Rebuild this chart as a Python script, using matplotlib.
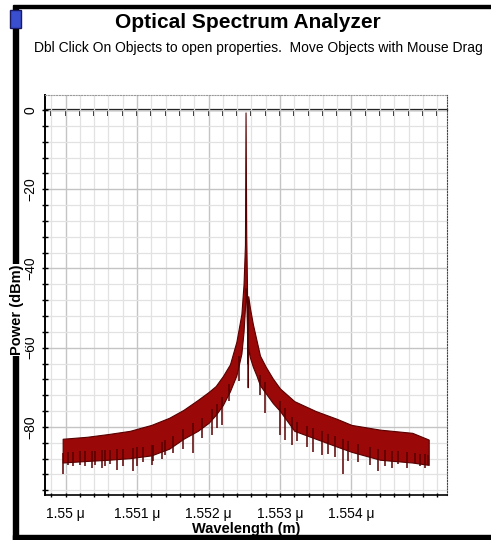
import numpy as np
import matplotlib.pyplot as plt
from matplotlib.patches import Rectangle
from matplotlib.ticker import MultipleLocator, FixedLocator, FuncFormatter

plt.rcParams['font.family'] = ['Liberation Sans', 'DejaVu Sans']

# spectrum envelope (wavelength in micrometres, power in dBm)
wl_upper = [1.54996, 1.5503, 1.5506, 1.5509, 1.5512, 1.55145, 1.55165, 1.55185,
            1.5520, 1.5521, 1.5522, 1.5523, 1.55239, 1.55246, 1.55249, 1.55251,
            1.552518, 1.552528, 1.552538, 1.552548, 1.552556, 1.55258, 1.55262,
            1.55267, 1.55272, 1.5528, 1.5529, 1.5530, 1.5532, 1.5535, 1.5538,
            1.5540, 1.5544, 1.55485, 1.55508]
p_upper = [-83.0, -82.5, -81.8, -81.0, -79.5, -77.7, -75.7, -73.2,
           -71.2, -69.7, -67.2, -64.2, -58.5, -51.5, -44.0, -34.0,
           -0.6, -32.0, -44.0, -64.0, -47.0, -50.0, -54.0,
           -58.0, -62.0, -64.8, -67.8, -70.3, -73.5, -76.0, -78.0,
           -79.5, -80.7, -81.5, -83.2]
p_lower = [-89.0, -88.6, -88.3, -87.9, -87.2, -85.5, -83.0, -81.0,
           -79.0, -77.0, -74.5, -71.0, -67.0, -61.5, -56.0, -50.0,
           -45.0, -48.0, -55.0, -70.0, -60.0, -62.5, -64.8,
           -67.0, -69.5, -71.5, -74.0, -76.0, -81.0, -83.0, -85.0,
           -86.3, -88.3, -89.0, -89.6]

# downward noise spikes visible in the trace
spike_wl = [1.549969, 1.550039, 1.550109, 1.550203, 1.550273, 1.550366, 1.550413,
            1.550506, 1.550552, 1.550622, 1.550716, 1.550808, 1.550948, 1.550996,
            1.551088, 1.551206, 1.551228, 1.551345, 1.551392, 1.551508, 1.551648,
            1.551787, 1.551905, 1.552045, 1.552115, 1.552185, 1.55228, 1.55242,
            1.55272, 1.552790, 1.553000, 1.553070, 1.553164, 1.553234, 1.553373,
            1.553466, 1.553583, 1.553676, 1.553769, 1.553885, 1.553955, 1.554095,
            1.554259, 1.554375, 1.554469, 1.554562, 1.554655, 1.554772, 1.554888,
            1.554958, 1.555028, 1.555074]
spike_p = [-92.0, -89.6, -89.9, -89.6, -89.8, -90.4, -89.6,
           -90.4, -89.9, -89.3, -90.8, -89.8, -91.2, -89.9,
           -88.8, -89.6, -88.6, -88.2, -87.1, -86.5, -85.6,
           -86.6, -82.9, -82.0, -80.3, -79.6, -73.5, -68.4,
           -72.0, -76.5, -82.0, -83.2, -84.5, -83.5, -85.0,
           -86.3, -87.0, -86.8, -87.5, -92.0, -88.5, -88.8,
           -89.6, -91.2, -89.8, -90.3, -89.3, -90.4, -89.2,
           -89.8, -90.3, -89.6]

x_labels = [1.550, 1.551, 1.552, 1.553, 1.554]
y_labels = [0, -20, -40, -60, -80]

trace = '#9a0808'
trace_dark = '#580000'

fig = plt.figure(figsize=(4.91, 5.40), dpi=100)
ax = fig.add_axes([45 / 491, 1 - 495 / 540, 402 / 491, 400 / 540])

ax.fill_between(wl_upper, p_lower, p_upper, color=trace, lw=0.8,
                edgecolor=trace_dark, zorder=3)
spike_top = np.interp(spike_wl, wl_upper, p_lower) + 2.5
ax.vlines(spike_wl, spike_p, spike_top, colors=trace_dark, lw=1.1, zorder=3)

ax.set_xlim(1.549713, 1.555336)
ax.set_ylim(-97.2, 3.8)

ax.xaxis.set_major_locator(FixedLocator(x_labels))
ax.xaxis.set_minor_locator(MultipleLocator(0.0002))
ax.xaxis.set_major_formatter(FuncFormatter(lambda v, p: f"{v:g} \u03bc"))
ax.yaxis.set_major_locator(FixedLocator(y_labels))
ax.yaxis.set_minor_locator(MultipleLocator(4))

ax.grid(which='minor', color='#e2e2e2', lw=0.9, zorder=0)
ax.grid(which='major', color='#c4c4c4', lw=1.0, zorder=0)
ax.set_axisbelow(True)

ax.tick_params(axis='y', which='both', direction='inout', length=5, width=1,
               labelsize=10, pad=3)
ax.tick_params(axis='x', which='both', direction='inout', length=3, width=1,
               labelsize=10, pad=7)
for lab in ax.get_yticklabels():
    lab.set_rotation(90)
    lab.set_va('center')

ax.spines['left'].set_linewidth(1.4)
ax.spines['bottom'].set_linewidth(1.2)
ax.spines['bottom'].set_linestyle((0, (2, 1)))
ax.spines['right'].set_linestyle((0, (1, 1.5)))
ax.spines['right'].set_color('#444444')
ax.spines['top'].set_linestyle((0, (1, 1.5)))
ax.spines['top'].set_color('#999999')

# black reference line at 0 dBm with its own ticks
sec = ax.secondary_xaxis(0, transform=ax.transData)
sec.set_xticks(np.arange(1.5498, 1.5553, 0.0002))
sec.tick_params(axis='x', direction='out', length=4, width=1.2,
                labeltop=False, labelbottom=False)
for sp in sec.spines.values():
    sp.set_linewidth(1.6)

ax.set_xlabel('Wavelength (m)', fontsize=10.5, fontweight='bold', labelpad=1)
fig.text(17 / 491, 1 - 310 / 540, 'Power (dBm)', rotation=90, ha='center',
         va='center', fontsize=10.5, fontweight='bold', zorder=12,
         bbox=dict(facecolor='white', edgecolor='none', pad=0.5))

fig.text(0.504, 0.958, 'Optical Spectrum Analyzer', ha='center', va='center',
         fontsize=15, fontweight='bold')
fig.text(0.527, 0.9105,
         'Dbl Click On Objects to open properties.  Move Objects with Mouse Drag',
         ha='center', va='center', fontsize=10)

# window frame
fig.add_artist(Rectangle((13 / 491, 0), 5 / 491, 532 / 540, transform=fig.transFigure,
                         color='black', zorder=10))
fig.add_artist(Rectangle((13 / 491, 532 / 540), 478 / 491, 3 / 540,
                         transform=fig.transFigure, color='black', zorder=10))
fig.add_artist(Rectangle((13 / 491, 0), 478 / 491, 5 / 540, transform=fig.transFigure,
                         color='black', zorder=10))
fig.add_artist(Rectangle((10 / 491, 1 - 28 / 540), 11 / 491, 18 / 540,
                         transform=fig.transFigure, facecolor='#3a4fd0',
                         edgecolor='#1a1a60', lw=1, zorder=11))

plt.savefig('out.png', dpi=100)
